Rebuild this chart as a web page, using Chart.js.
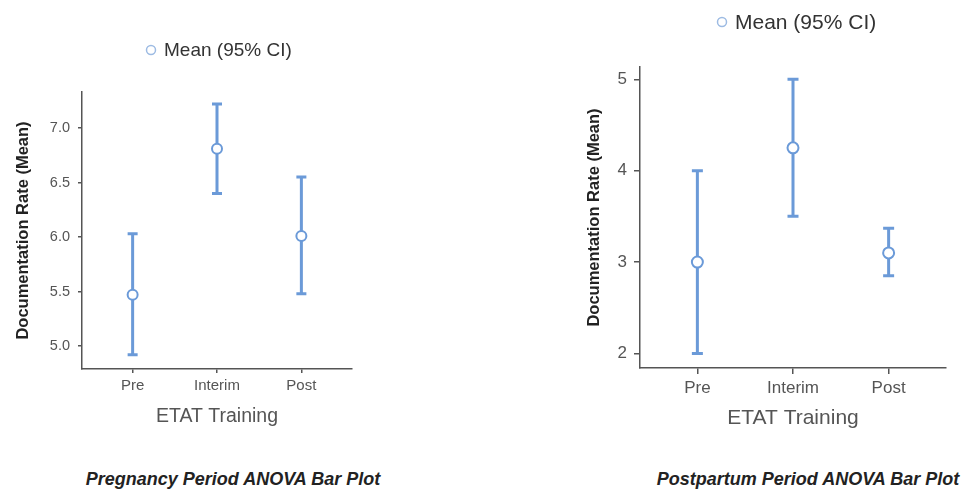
<!DOCTYPE html>
<html>
<head>
<meta charset="utf-8">
<title>ETAT Training ANOVA plots</title>
<script src="https://cdn.jsdelivr.net/npm/chart.js@4.4.1/dist/chart.umd.min.js"></script>
<style>
  body { margin: 0; background: #fff; width: 971px; height: 491px; position: relative; overflow: hidden; font-family: "Liberation Sans", Arial, sans-serif; }
  .panel { position: absolute; top: 0; }
  .caption { position: absolute; top: 469px; font-weight: bold; font-style: italic; font-size: 18px; color: #222; transform: translateX(-50%); white-space: nowrap; }
</style>
</head>
<body>
<div class="panel" style="left:0"><canvas id="pregnancyChart" width="400" height="450"></canvas></div>
<div class="panel" style="left:570px"><canvas id="postpartumChart" width="401" height="450"></canvas></div>
<div class="caption" style="left:233px">Pregnancy Period ANOVA Bar Plot</div>
<div class="caption" style="left:808px">Postpartum Period ANOVA Bar Plot</div>
<script>
// categories on the x axis (shared by both plots)
const categories = ['Pre', 'Interim', 'Post'];

// pregnancy period: mean and 95% CI
const pregnancyMean = [5.47, 6.81, 6.01];
const pregnancyLower = [4.92, 6.40, 5.48];
const pregnancyUpper = [6.03, 7.22, 6.55];
const pregnancyTicks = [5.0, 5.5, 6.0, 6.5, 7.0];

// postpartum period: mean and 95% CI
const postpartumMean = [3.0, 4.25, 3.1];
const postpartumLower = [2.0, 3.5, 2.85];
const postpartumUpper = [4.0, 5.0, 3.37];
const postpartumTicks = [2, 3, 4, 5];

const FONT = '"Liberation Sans", Arial, sans-serif';
const BLUE = '#6b9ad8';
const AXIS = '#555';

// error bars + legend drawn with the chart scales
const ciPlugin = {
  id: 'ciBars',
  beforeDatasetsDraw(chart, args, opts) {
    const { ctx, scales: { x, y } } = chart;
    const ds = chart.data.datasets[0];
    ctx.save();
    ctx.strokeStyle = BLUE;
    ctx.lineWidth = 3;
    ds.ciLower.forEach((lo, i) => {
      const px = x.getPixelForValue(i);
      const top = y.getPixelForValue(ds.ciUpper[i]);
      const bot = y.getPixelForValue(lo);
      const half = opts.cap;
      ctx.beginPath();
      ctx.moveTo(px, top); ctx.lineTo(px, bot);
      ctx.moveTo(px - half, top); ctx.lineTo(px + half, top);
      ctx.moveTo(px - half, bot); ctx.lineTo(px + half, bot);
      ctx.stroke();
    });
    ctx.restore();
  },
  afterDraw(chart, args, opts) {
    const ctx = chart.ctx;
    ctx.save();
    ctx.beginPath();
    ctx.arc(opts.legendX, opts.legendY, 4.5, 0, Math.PI * 2);
    ctx.fillStyle = '#fff';
    ctx.fill();
    ctx.strokeStyle = '#9dbbe3';
    ctx.lineWidth = 1.5;
    ctx.stroke();
    ctx.fillStyle = '#333';
    ctx.font = opts.legendSize + 'px ' + FONT;
    ctx.textBaseline = 'middle';
    ctx.textAlign = 'left';
    ctx.fillText(chart.data.datasets[0].label, opts.legendX + 13, opts.legendY + 1);
    ctx.restore();
  }
};

function makeChart(id, s) {
  return new Chart(document.getElementById(id), {
    type: 'scatter',
    data: {
      datasets: [{
        label: 'Mean (95% CI)',
        data: s.mean.map((m, i) => ({ x: i, y: m })),
        ciLower: s.lower,
        ciUpper: s.upper,
        pointRadius: s.radius,
        pointBackgroundColor: '#fff',
        pointBorderColor: BLUE,
        pointBorderWidth: 2,
        showLine: false
      }]
    },
    options: {
      responsive: false,
      animation: false,
      layout: { padding: { top: s.top, right: s.right, left: 10, bottom: 10 } },
      plugins: {
        legend: { display: false },
        tooltip: { enabled: false },
        ciBars: { cap: s.cap, legendX: s.legendX, legendY: s.legendY, legendSize: s.legendSize }
      },
      scales: {
        x: {
          type: 'linear',
          min: -0.6,
          max: 2.6,
          afterBuildTicks: scale => { scale.ticks = categories.map((c, i) => ({ value: i })); },
          afterFit: scale => { scale.height = s.xHeight; },
          border: { display: true, color: AXIS, width: 1.5 },
          grid: { drawOnChartArea: false, drawTicks: true, tickLength: s.tick, color: AXIS, lineWidth: 1.5 },
          ticks: {
            padding: 4,
            color: AXIS,
            font: { family: FONT, size: s.tickSize },
            callback: v => categories[v]
          },
          title: {
            display: true,
            text: 'ETAT Training',
            color: AXIS,
            font: { family: FONT, size: s.xTitleSize },
            padding: { top: 0, bottom: s.xTitlePad }
          }
        },
        y: {
          min: s.min,
          max: s.max,
          afterBuildTicks: scale => { scale.ticks = s.ticks.map(v => ({ value: v })); },
          afterFit: scale => { scale.width = s.yWidth; },
          border: { display: true, color: AXIS, width: 1.5 },
          grid: { drawOnChartArea: false, drawTicks: true, tickLength: s.tick, color: AXIS, lineWidth: 1.5 },
          ticks: {
            padding: s.yPad,
            color: AXIS,
            font: { family: FONT, size: s.yTickSize },
            callback: s.format
          },
          title: {
            display: true,
            text: 'Documentation Rate (Mean)',
            color: '#222',
            font: { family: FONT, size: 16.5, weight: 'bold' },
            padding: { top: s.yTitlePad, bottom: 0 }
          }
        }
      }
    },
    plugins: [ciPlugin]
  });
}

makeChart('pregnancyChart', {
  mean: pregnancyMean, lower: pregnancyLower, upper: pregnancyUpper, ticks: pregnancyTicks,
  min: 4.79, max: 7.33, format: v => v.toFixed(1),
  top: 92, right: 48, yWidth: 72, xHeight: 71,
  tick: 4, yPad: 8, yTitlePad: 4, tickSize: 15, yTickSize: 14.5,
  xTitleSize: 19.5, xTitlePad: 12,
  radius: 5, cap: 5,
  legendX: 151, legendY: 50, legendSize: 19
});

makeChart('postpartumChart', {
  mean: postpartumMean, lower: postpartumLower, upper: postpartumUpper, ticks: postpartumTicks,
  min: 1.84, max: 5.135, format: v => String(v),
  top: 67, right: 25, yWidth: 60, xHeight: 72,
  tick: 6, yPad: 7, yTitlePad: 5, tickSize: 17, yTickSize: 17,
  xTitleSize: 21, xTitlePad: 9,
  radius: 5.5, cap: 5.5,
  legendX: 152, legendY: 22, legendSize: 21
});
</script>
</body>
</html>
